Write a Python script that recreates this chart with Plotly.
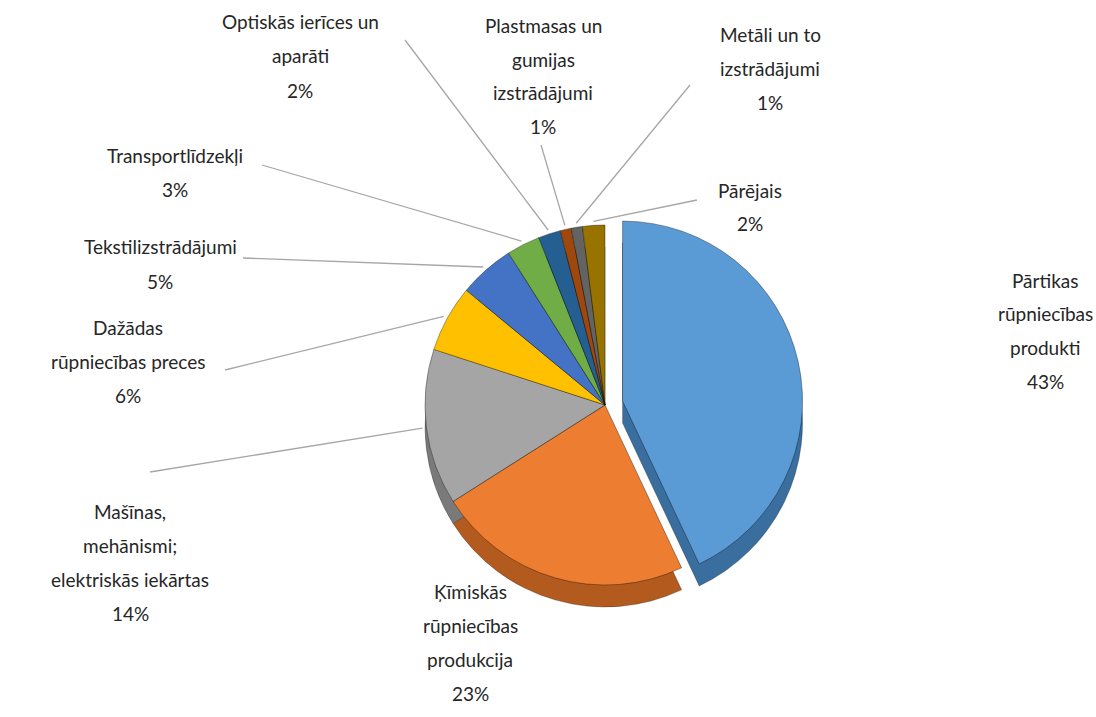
import math
import plotly.graph_objects as go

labels = ["Pārtikas<br>rūpniecības<br>produkti", "Ķīmiskās<br>rūpniecības<br>produkcija",
          "Mašīnas,<br>mehānismi;<br>elektriskās iekārtas", "Dažādas<br>rūpniecības preces",
          "Tekstilizstrādājumi", "Transportlīdzekļi", "Optiskās ierīces un<br>aparāti",
          "Plastmasas un<br>gumijas<br>izstrādājumi", "Metāli un to<br>izstrādājumi", "Pārējais"]
values = [43, 23, 14, 6, 5, 3, 2, 1, 1, 2]
colors = ["#5B9BD5", "#ED7D31", "#A5A5A5", "#FFC000", "#4472C4", "#70AD47",
          "#255E91", "#9E480E", "#636363", "#997300"]
dark = ["#3A6E9E", "#B35A1F", "#7A7A7A", "#BF9000", "#2F5597", "#507E32",
        "#1A4268", "#6E320A", "#454545", "#6B5000"]
pulls = [0.1, 0, 0, 0, 0, 0, 0, 0, 0, 0]

W, H = 1096, 717
cx, cy, r, depth = 605, 405, 180, 22
half = r * (1 + max(pulls))

def dom(cyy):
    return dict(x=[(cx - half) / W, (cx + half) / W],
                y=[1 - (cyy + half) / H, 1 - (cyy - half) / H])

fig = go.Figure()
fig.add_trace(go.Pie(labels=labels, values=values, sort=False, direction="clockwise",
                     rotation=0, pull=pulls, domain=dom(cy + depth), textinfo="none",
                     marker=dict(colors=dark, line=dict(color="rgba(0,0,0,0.25)", width=1)),
                     hoverinfo="skip", showlegend=False))
fig.add_trace(go.Pie(labels=labels, values=values, sort=False, direction="clockwise",
                     rotation=0, pull=pulls, domain=dom(cy), textinfo="none",
                     marker=dict(colors=colors, line=dict(color="rgba(0,0,0,0.35)", width=1)),
                     showlegend=False))

# label positions: centre x and first-line y (px); leader-line outer end (px) or None
label_pos = [(1045, 280), (470, 591), (130, 511), (128, 327), (160, 247), (175, 155),
             (300, 22), (543, 25), (770, 35), (750, 190)]
line_out = [None, None, (150, 472), (225, 370), (243, 258), (262, 165),
            (405, 40), (541, 145), (690, 85), (697, 200)]
line_gap = 34

total = sum(values)
cum = 0
shapes = []
font = dict(family="Lato, Open Sans, sans-serif", size=19, color="#262626")
for i, v in enumerate(values):
    mid = (cum + v / 2) / total * 2 * math.pi
    cum += v
    pct = f"{round(v / total * 100)}%"
    lx, ly = label_pos[i]
    rows = labels[i].split("<br>") + [pct]
    for k, row in enumerate(rows):
        fig.add_annotation(x=lx / W, y=1 - (ly + k * line_gap) / H, xref="paper", yref="paper",
                           text=row, showarrow=False, font=font,
                           xanchor="center", yanchor="middle")
    if line_out[i] is not None:
        rr = r + 4
        px = cx + rr * math.sin(mid)
        py = cy - rr * math.cos(mid)
        ox, oy = line_out[i]
        shapes.append(dict(type="line", xref="paper", yref="paper",
                           x0=ox / W, y0=1 - oy / H, x1=px / W, y1=1 - py / H,
                           line=dict(color="#A6A6A6", width=1.3)))

fig.update_layout(width=W, height=H, margin=dict(l=0, r=0, t=0, b=0),
                  paper_bgcolor="white", plot_bgcolor="white", shapes=shapes,
                  showlegend=False)
fig.write_html("out.html")
